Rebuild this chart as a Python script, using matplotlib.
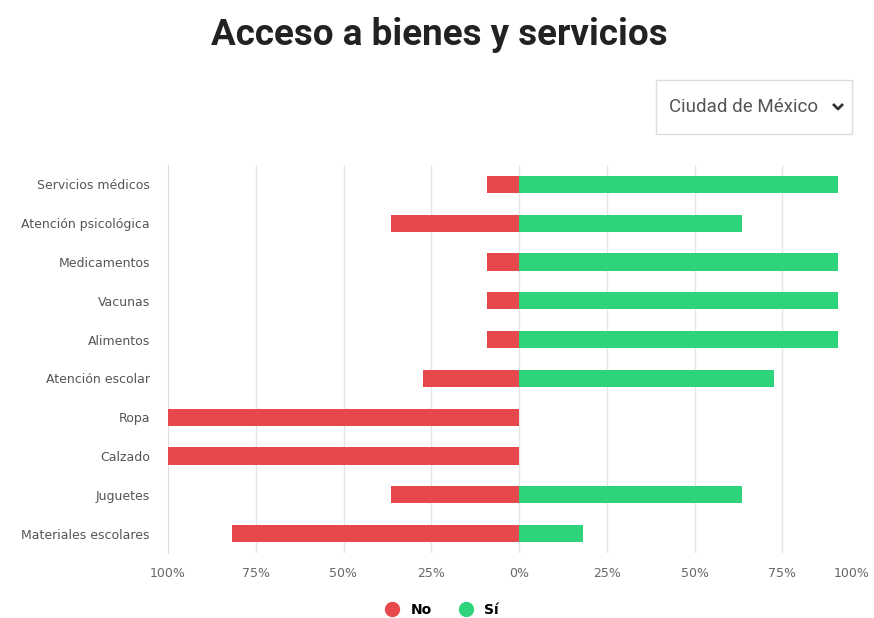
import matplotlib.pyplot as plt
from matplotlib.patches import FancyBboxPatch
from matplotlib.lines import Line2D

categorias = ['Servicios médicos', 'Atención psicológica', 'Medicamentos', 'Vacunas',
              'Alimentos', 'Atención escolar', 'Ropa', 'Calzado', 'Juguetes',
              'Materiales escolares']
no = [9.1, 36.4, 9.1, 9.1, 9.1, 27.3, 100, 100, 36.4, 81.8]
si = [90.9, 63.6, 90.9, 90.9, 90.9, 72.7, 0, 0, 63.6, 18.2]
ticks = [-100, -75, -50, -25, 0, 25, 50, 75, 100]
tick_labels = ['100%', '75%', '50%', '25%', '0%', '25%', '50%', '75%', '100%']

rojo = '#e6484c'
verde = '#2dd47b'

fig = plt.figure(figsize=(8.74, 6.18), dpi=100)
ax = fig.add_axes([168 / 874, 1 - 553 / 618, (870 - 168) / 874, 388 / 618])

y = list(range(len(categorias)))
ax.barh(y, [-v for v in no], height=0.44, color=rojo, zorder=3)
ax.barh(y, si, height=0.44, color=verde, zorder=3)

ax.set_xlim(-100, 100)
ax.set_ylim(len(categorias) - 0.5, -0.5)
ax.set_yticks(y)
ax.set_yticklabels(categorias, fontsize=9, color='#555555')
ax.set_xticks(ticks)
ax.set_xticklabels(tick_labels, fontsize=9, color='#666666')
ax.get_xticklabels()[-1].set_horizontalalignment('right')
ax.tick_params(length=0, pad=10)
ax.tick_params(axis='y', pad=13)
for t in ticks[1:-1]:
    ax.axvline(t, color='#e6e6e6', linewidth=1, zorder=0)
for s in ['top', 'right', 'bottom']:
    ax.spines[s].set_visible(False)
ax.spines['left'].set_color('#dddddd')

fig.text(0.503, 1 - 35 / 618, 'Acceso a bienes y servicios', ha='center', va='center',
         fontsize=26.5, fontweight='bold', color='#222222', family='Roboto')

# selector
caja = FancyBboxPatch((656 / 874, 1 - 134 / 618), 196 / 874, 54 / 618,
                      boxstyle='square,pad=0', transform=fig.transFigure,
                      facecolor='white', edgecolor='#dddddd', linewidth=1)
fig.patches.append(caja)
fig.text(669 / 874, 1 - 107 / 618, 'Ciudad de México', ha='left', va='center',
         fontsize=13.5, color='#555555', family='Roboto')
fig.add_artist(Line2D([834 / 874, 838 / 874, 842 / 874],
                      [1 - 105 / 618, 1 - 109 / 618, 1 - 105 / 618],
                      transform=fig.transFigure, color='#333333', linewidth=2))

handles = [Line2D([], [], marker='o', linestyle='', markersize=10, color=rojo),
           Line2D([], [], marker='o', linestyle='', markersize=10, color=verde)]
fig.legend(handles, ['No', 'Sí'], loc='center', bbox_to_anchor=(0.502, 1 - 610 / 618),
           ncol=2, frameon=False, handletextpad=0.3, columnspacing=1.5,
           prop={'weight': 'bold', 'size': 10})

fig.savefig('out.png', dpi=100, facecolor='white')
